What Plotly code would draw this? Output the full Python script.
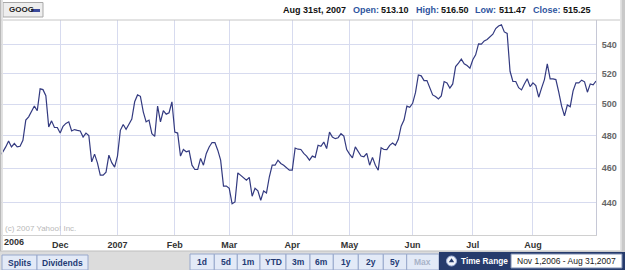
import math
import plotly.graph_objects as go

# ---------------- data ----------------
close = [
    467.9, 469.9, 472.9, 476.5, 472.9, 475.0, 472.9, 473.3, 477.0, 489.7,
    491.8, 495.5, 498.7, 495.7, 510.0, 509.5, 505.5, 485.4, 489.2, 485.0,
    485.0, 481.5, 485.8, 487.6, 488.6, 482.8, 483.7, 483.2, 482.8, 479.0,
    481.5, 480.0, 463.8, 468.5, 463.2, 455.9, 455.9, 457.6, 467.9, 463.3,
    460.6, 467.3, 483.2, 486.9, 483.9, 487.1, 490.3, 501.5, 506.0, 505.1,
    495.0, 488.6, 489.7, 481.1, 479.4, 498.7, 488.6, 495.7, 493.5, 494.4,
    501.5, 482.1, 481.5, 467.3, 471.3, 469.9, 470.5, 461.8, 459.2, 459.2,
    465.9, 461.8, 468.9, 472.9, 475.6, 475.6, 470.9, 464.8, 449.4, 449.4,
    448.1, 439.2, 440.2, 457.2, 455.9, 454.5, 452.9, 454.5, 443.5, 448.1,
    446.6, 441.2, 446.6, 445.4, 454.9, 461.8, 461.8, 464.8, 462.8, 461.8,
    460.4, 458.8, 458.8, 472.2, 471.5, 471.3, 468.9, 467.3, 464.8, 467.3,
    466.5, 473.9, 473.3, 475.9, 471.9, 482.1, 479.0, 478.0, 478.6, 481.1,
    479.6, 471.3, 468.5, 466.2, 472.9, 470.3, 467.3, 466.9, 468.9, 461.8,
    466.5, 461.8, 458.8, 472.4, 471.3, 471.2, 473.9, 475.3, 473.9, 477.6,
    485.8, 489.7, 498.7, 497.9, 500.5, 507.5, 519.3, 518.7, 515.5, 515.5,
    510.5, 506.0, 504.9, 503.3, 505.3, 514.9, 514.0, 510.5, 513.3, 525.0,
    527.4, 530.1, 526.9, 525.7, 523.9, 529.7, 533.1, 540.7, 540.5, 542.8,
    543.8, 545.5, 547.6, 551.6, 553.5, 554.4, 549.2, 548.1, 521.8, 515.0,
    514.9, 510.8, 509.3, 513.3, 516.7, 511.5, 514.0, 512.2, 504.5, 510.5,
    516.2, 526.9, 516.7, 516.7, 516.2, 507.9, 498.7, 492.4, 499.4, 498.3,
    508.7, 514.0, 514.0, 515.8, 514.7, 507.8, 513.3, 512.7, 515.25,
]
trading_day = list(range(len(close)))

month_start_day = [21, 41, 61, 80, 102, 122, 144, 165, 186]
month_labels = ["Dec", "2007", "Feb", "Mar", "Apr", "May", "Jun", "Jul", "Aug"]
first_label = "2006"
price_ticks = [440, 460, 480, 500, 520, 540]

symbol = "GOOG"
quote_date = "Aug 31st, 2007"
quote_labels = ["Open:", "High:", "Low:", "Close:"]
quote_values = ["513.10", "516.50", "511.47", "515.25"]
range_buttons = ["1d", "5d", "1m", "YTD", "3m", "6m", "1y", "2y", "5y", "Max"]
time_range_text = "Nov 1,2006 - Aug 31,2007"

# ---------------- layout helpers (pixel -> paper) ----------------
W, H = 625, 270
ML, MR, MT, MB = 0, 29, 20, 35
PW, PH = W - ML - MR, H - MT - MB


def X(px):
    return (px - ML) / PW


def Y(py):
    return (H - MB - py) / PH


FONT = "Liberation Sans, Arial, sans-serif"

fig = go.Figure(
    go.Scatter(
        x=trading_day, y=close, mode="lines",
        line=dict(color="#333a80", width=1.2),
        hoverinfo="skip",
    )
)

shapes = []
annotations = []


def rect(x0, y0, x1, y1, fill, line=None, lw=1, layer="above"):
    shapes.append(dict(
        type="rect", xref="paper", yref="paper",
        x0=X(x0), x1=X(x1), y0=Y(y1), y1=Y(y0),
        fillcolor=fill, line=dict(color=line or fill, width=lw if line else 0),
        layer=layer,
    ))


def text(x, y, s, size=9, color="#222", bold=False, xanchor="left"):
    annotations.append(dict(
        xref="paper", yref="paper", x=X(x), y=Y(y), text=s,
        showarrow=False, xanchor=xanchor, yanchor="middle",
        font=dict(family=FONT, size=size, color=color,
                  weight="bold" if bold else "normal"),
    ))


# header separator
shapes.append(dict(type="line", xref="paper", yref="paper",
                   x0=X(0), x1=X(620), y0=Y(20), y1=Y(20),
                   line=dict(color="#c6c6c6", width=1)))

# GOOG button
rect(3, 2.5, 43, 17, "#eeeeee", "#a9a9a9")
text(7, 10, symbol, size=8, color="#222", bold=True)
shapes.append(dict(type="line", xref="paper", yref="paper",
                   x0=X(31), x1=X(40), y0=Y(10.5), y1=Y(10.5),
                   line=dict(color="#3b4a9c", width=3)))

# header quote
text(281, 10, quote_date, size=9, color="#111", bold=True)
lab_x = [351, 414, 473, 531]
val_x = [379, 439, 497, 561]
for lx, vx, lab, val in zip(lab_x, val_x, quote_labels, quote_values):
    text(lx, 10, lab, size=9, color="#2f55a0", bold=True)
    text(vx, 10, val, size=9, color="#111", bold=True)

# copyright
text(3, 228, "(c) 2007 Yahoo! Inc.", size=8, color="#b9b9b9")

# first x label (left aligned at edge)
text(2, 242, first_label, size=9, color="#333", bold=True)

# bottom bar
rect(-1, 251, 626, 271, "#dcdcdc")
shapes.append(dict(type="line", xref="paper", yref="paper",
                   x0=X(0), x1=X(625), y0=Y(251), y1=Y(251),
                   line=dict(color="#bdbdbd", width=1)))

# Splits / Dividends
for (x0, x1, lab) in [(2, 37, "Splits"), (37, 88, "Dividends")]:
    rect(x0, 255, x1, 270, "#e3eaf7", "#98a8cc")
    text((x0 + x1) / 2, 262.5, lab, size=8.5, color="#233a74",
         bold=True, xanchor="center")

# range buttons
edges = [190, 214.3, 237.3, 260, 286, 310, 333.3, 358.3, 383.3, 406.7, 439]
for i, lab in enumerate(range_buttons):
    x0, x1 = edges[i], edges[i + 1]
    rect(x0, 254, x1, 270, "#e3eaf7", "#98a8cc")
    col = "#a9b3c8" if lab == "Max" else "#233a74"
    text((x0 + x1) / 2, 262, lab, size=8.5, color=col, bold=True,
         xanchor="center")

# time range panel
rect(439, 252, 626, 271, "#263b6c")
shapes.append(dict(type="circle", xref="paper", yref="paper",
                   x0=X(446.5), x1=X(456.5), y0=Y(266), y1=Y(256),
                   fillcolor="#f0f3fa", line=dict(color="#9fb0d8", width=1)))
shapes.append(dict(type="path", xref="paper", yref="paper",
                   path="M {} {} L {} {} L {} {} Z".format(
                       X(448.8), Y(262.3), X(454.2), Y(262.3), X(451.5), Y(258.2)),
                   fillcolor="#263b6c", line=dict(width=0)))
text(459, 261, "Time Range", size=8.3, color="#ffffff", bold=True)
rect(511, 254, 622, 268, "#ffffff", "#7d8db0")
text(566.5, 261, time_range_text, size=8.5, color="#1a1a1a", xanchor="center")

# frame edges
rect(0, 0, 1.5, 251, "#b9b9b9")
rect(1.5, 0, 3, 251, "#e2e2e2")
rect(620, 0, 621.5, 251, "#e4e4e4")
rect(621.5, 0, 625, 251, "#c9c9c9")

fig.update_layout(
    width=W, height=H,
    margin=dict(l=ML, r=MR, t=MT, b=MB, pad=0),
    paper_bgcolor="#ffffff", plot_bgcolor="#ffffff",
    showlegend=False,
    xaxis=dict(
        range=[0, len(close) - 1],
        tickmode="array", tickvals=month_start_day, ticktext=month_labels,
        showgrid=True, gridcolor="#d7dbef", gridwidth=1,
        zeroline=False, showline=True, linecolor="#d0d0d0",
        ticks="", ticklabelstandoff=1,
        tickfont=dict(family=FONT, size=9, color="#333", weight="bold"),
        fixedrange=True,
    ),
    yaxis=dict(
        type="log", side="right",
        range=[math.log10(421.7), math.log10(557.8)],
        tickmode="array", tickvals=price_ticks,
        ticktext=[str(v) for v in price_ticks],
        showgrid=True, gridcolor="#d7dbef", gridwidth=1,
        zeroline=False, showline=True, linecolor="#c6c8d6",
        ticks="", ticklabelstandoff=3,
        tickfont=dict(family=FONT, size=9, color="#666", weight="bold"),
        fixedrange=True,
    ),
    shapes=shapes,
    annotations=annotations,
)

fig.write_html("out.html")
